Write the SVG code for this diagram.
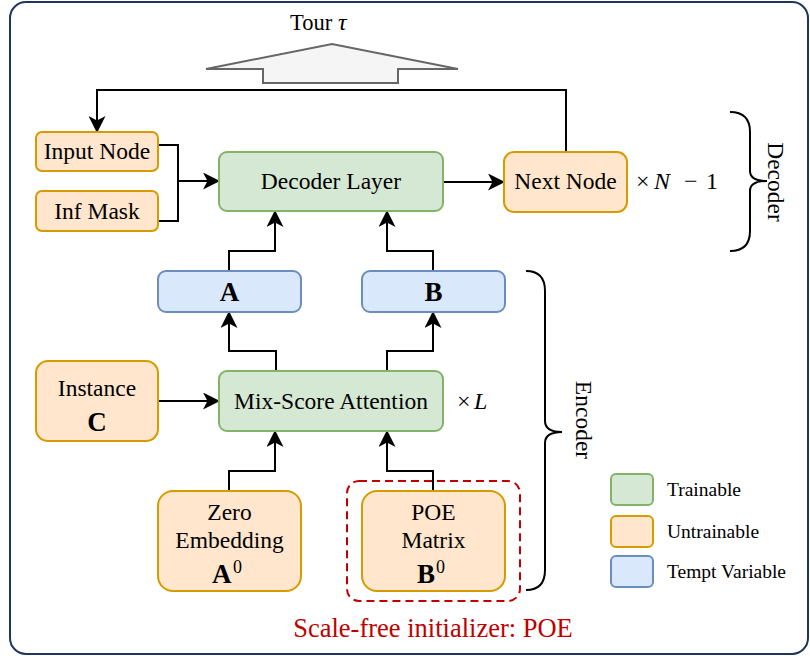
<svg xmlns="http://www.w3.org/2000/svg" width="810" height="656" viewBox="0 0 810 656">
  <style>
    .t { font-family: "Liberation Serif", "Times New Roman", serif; fill: #000; }
    .n { font-size: 23.5px; text-anchor: middle; }
    .b { font-weight: bold; font-size: 27px; }
    .i { font-style: italic; }
    .g { fill: #d5e8d4; stroke: #82b366; stroke-width: 2; }
    .o { fill: #ffe6cc; stroke: #d79b00; stroke-width: 2; }
    .u { fill: #dae8fc; stroke: #6c8ebf; stroke-width: 2; }
    .c { fill: none; stroke: #000; stroke-width: 2; }
    .c.a { marker-end: url(#arr); }
    .lg { font-size: 19.5px; }
    .m { font-size: 24px; }
  </style>
  <defs>
    <marker id="arr" viewBox="0 0 17 17" refX="16" refY="8.5" markerWidth="17" markerHeight="17" markerUnits="userSpaceOnUse" orient="auto">
      <path d="M0,0 L17,8.5 L0,17 L4.5,8.5 z" fill="#000"/>
    </marker>
  </defs>

  <!-- outer frame -->
  <rect x="10" y="2" width="798" height="652" rx="16" fill="#fff" stroke="#1f3560" stroke-width="2"/>

  <!-- output: tour -->
  <g id="tour">
    <text class="t" x="290" y="30" font-size="22.5px">Tour<tspan class="i" x="338" font-size="24px">τ</tspan></text>
    <polygon points="206,69 332,44 458,69 398,69 398,83 263,83 263,69" fill="#f5f5f5" stroke="#666" stroke-width="2"/>
  </g>

  <!-- connectors -->
  <g id="connectors">
    <path class="c a" d="M566,152 V90 H97 V132"/>
    <path class="c" d="M158,145 H178 V221 H158"/>
    <path class="c a" d="M178,181 H219"/>
    <path class="c a" d="M443,182 H504"/>
    <path class="c a" d="M229,271 V251 H275 V211"/>
    <path class="c a" d="M433,271 V251 H387 V211"/>
    <path class="c a" d="M276,371 V351 H229 V312"/>
    <path class="c a" d="M387,371 V351 H433 V312"/>
    <path class="c a" d="M158,401 H219"/>
    <path class="c a" d="M229,491 V471 H275 V431"/>
    <path class="c a" d="M433,491 V471 H387 V431"/>
  </g>

  <!-- decoder part -->
  <g id="input-node">
    <rect class="o" x="36" y="132" width="122" height="39" rx="6"/>
    <text class="t n" x="97" y="159">Input Node</text>
  </g>
  <g id="inf-mask">
    <rect class="o" x="36" y="191" width="122" height="40" rx="6"/>
    <text class="t n" x="97" y="219">Inf Mask</text>
  </g>
  <g id="decoder-layer">
    <rect class="g" x="219" y="152" width="224" height="59" rx="8"/>
    <text class="t n" x="331" y="189">Decoder Layer</text>
  </g>
  <g id="next-node">
    <rect class="o" x="504" y="152" width="123" height="60" rx="10"/>
    <text class="t n" x="565.5" y="189">Next Node</text>
    <text class="t m" y="189"><tspan x="636">×</tspan><tspan class="i" x="654">N</tspan><tspan x="684">−</tspan><tspan x="706">1</tspan></text>
  </g>

  <!-- encoder part -->
  <g id="var-a">
    <rect class="u" x="158" y="271" width="143" height="41" rx="8"/>
    <text class="t n b" x="229.5" y="301">A</text>
  </g>
  <g id="var-b">
    <rect class="u" x="362" y="271" width="143" height="41" rx="8"/>
    <text class="t n b" x="433.5" y="301">B</text>
  </g>
  <g id="mix-score-attention">
    <rect class="g" x="219" y="371" width="224" height="60" rx="8"/>
    <text class="t n" x="331" y="409">Mix-Score Attention</text>
    <text class="t m" y="409"><tspan x="457">×</tspan><tspan class="i" x="474">L</tspan></text>
  </g>
  <g id="instance">
    <rect class="o" x="36" y="361" width="122" height="80" rx="12"/>
    <text class="t n" x="97" y="396">Instance</text>
    <text class="t n b" x="97" y="431">C</text>
  </g>
  <g id="zero-embedding">
    <rect class="o" x="158" y="491" width="143" height="100" rx="15"/>
    <text class="t n" x="229.5" y="520">Zero</text>
    <text class="t n" x="229.5" y="548">Embedding</text>
    <text class="t b" x="212" y="583">A<tspan x="233" font-size="18px" font-weight="normal" y="573">0</tspan></text>
  </g>
  <g id="poe-matrix">
    <rect x="347" y="481" width="173" height="120" rx="12" fill="none" stroke="#c00000" stroke-width="2" stroke-dasharray="8,5"/>
    <rect class="o" x="362" y="491" width="143" height="100" rx="15"/>
    <text class="t n" x="433.5" y="520">POE</text>
    <text class="t n" x="433.5" y="548">Matrix</text>
    <text class="t b" x="417" y="583">B<tspan x="436" font-size="18px" font-weight="normal" y="573">0</tspan></text>
    <text class="t" x="433" y="637" font-size="26.5px" text-anchor="middle" style="fill:#c00000">Scale-free initializer: POE</text>
  </g>

  <!-- braces -->
  <g id="decoder-brace">
    <path class="c" d="M730,112 Q750,112 750,132 V171 Q750,181 767,181 Q750,181 750,191 V231 Q750,251 730,251"/>
    <text class="t n" transform="translate(768,182) rotate(90)">Decoder</text>
  </g>
  <g id="encoder-brace">
    <path class="c" d="M526,271 Q545,271 545,291 V421 Q545,432 562,432 Q545,432 545,443 V570 Q545,590 526,590"/>
    <text class="t n" transform="translate(576,420) rotate(90)">Encoder</text>
  </g>

  <!-- legend -->
  <g id="legend">
    <rect class="g" x="611" y="474" width="42" height="31" rx="5"/>
    <text class="t lg" x="667" y="496">Trainable</text>
    <rect class="o" x="611" y="516" width="42" height="31" rx="5"/>
    <text class="t lg" x="667" y="538">Untrainable</text>
    <rect class="u" x="611" y="556" width="42" height="31" rx="5"/>
    <text class="t lg" x="667" y="578">Tempt Variable</text>
  </g>
</svg>
